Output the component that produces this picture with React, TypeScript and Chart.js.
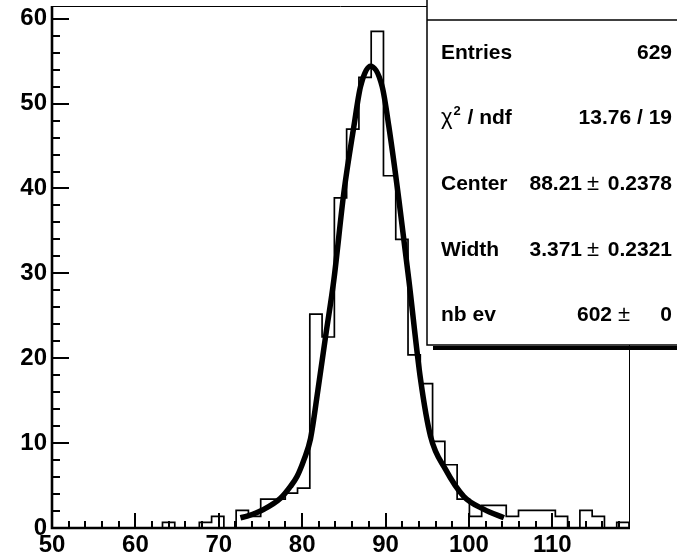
import React, { useEffect, useRef } from "react";
import { Chart, registerables } from "chart.js";

Chart.register(...registerables);

// ---- data ----
const X_MIN = 50;
const X_MAX = 119.2;
const Y_MAX = 61.5;

// 47 bins from X_MIN to X_MAX
const binCounts = [
  0, 0, 0, 0, 0, 0, 0, 0, 0, 0.66,
  0, 0, 0.66, 1.37, 0, 2.07, 1.37, 3.4, 3.4, 4.1,
  4.7, 25.2, 22.5, 38.9, 47.0, 53.1, 58.5, 41.5, 34.0, 20.4,
  17.0, 10.2, 7.45, 3.4, 1.37, 2.66, 2.66, 1.37, 2.07, 2.07,
  2.07, 1.37, 0, 2.07, 1.37, 0, 0.66,
];

const fitX = [72.6, 73.4, 75.4, 77.4, 78.6, 79.4, 80.2, 81.0, 81.9, 82.8, 83.8, 85.0, 86.2, 87.0, 88.2, 89.6, 90.4, 91.6, 92.8, 94.2, 95.4, 97.2, 99.4, 101.8, 104.2];
const fitY = [1.2, 1.4, 2.2, 3.5, 4.9, 6.1, 8.0, 10.5, 16.3, 22.5, 29.2, 39.5, 47.3, 52.0, 54.4, 52.0, 47.3, 38.7, 29.2, 17.5, 10.8, 6.9, 3.7, 2.2, 1.2];

const xMajorTicks = [50, 60, 70, 80, 90, 100, 110];
const yMajorTicks = [0, 10, 20, 30, 40, 50, 60];
const xMinorStep = 2;
const yMinorStep = 2;

const statsEntries = "629";
const statsChi2 = "13.76 / 19";
const statsCenter = ["88.21", "0.2378"];
const statsWidth = ["3.371", "0.2321"];
const statsNbEv = ["602", "0"];

const BOLD = 'bold 21px "Liberation Sans", Arial, Helvetica, sans-serif';
const NORMAL = '22px "Liberation Sans", Arial, Helvetica, sans-serif';

const rootDecor = {
  id: "rootDecor",
  afterDatasetsDraw(chart: any) {
    const { ctx, chartArea: a, scales } = chart;
    const x = scales.x;
    const y = scales.y;
    ctx.save();
    ctx.strokeStyle = "#000";
    ctx.fillStyle = "#000";

    // thin top & right frame
    ctx.lineWidth = 1;
    ctx.beginPath();
    ctx.moveTo(a.left, a.top + 0.5);
    ctx.lineTo(a.right, a.top + 0.5);
    ctx.moveTo(a.right + 0.5, a.top);
    ctx.lineTo(a.right + 0.5, a.bottom);
    ctx.stroke();

    // ticks (inside)
    ctx.lineWidth = 2;
    ctx.beginPath();
    for (let v = 0; v <= Y_MAX; v += yMinorStep) {
      const len = yMajorTicks.includes(v) ? 17 : 8;
      const py = Math.round(y.getPixelForValue(v));
      ctx.moveTo(a.left, py);
      ctx.lineTo(a.left + len, py);
    }
    for (let v = X_MIN; v <= X_MAX; v += xMinorStep) {
      const len = xMajorTicks.includes(v) ? 15 : 7;
      const px = Math.round(x.getPixelForValue(v));
      ctx.moveTo(px, a.bottom);
      ctx.lineTo(px, a.bottom - len);
    }
    ctx.stroke();

    // thick axes
    ctx.lineWidth = 2.6;
    ctx.beginPath();
    ctx.moveTo(a.left, a.top);
    ctx.lineTo(a.left, a.bottom);
    ctx.lineTo(a.right + 1, a.bottom);
    ctx.stroke();

    // stats box
    const bx = 427;
    const by = -5;
    const bw = 300;
    const bh = 350;
    ctx.fillStyle = "#000";
    ctx.fillRect(bx + 6, by + bh + 1, bw, 4);
    ctx.fillStyle = "#fff";
    ctx.fillRect(bx, by, bw, bh);
    ctx.lineWidth = 1.5;
    ctx.strokeStyle = "#000";
    ctx.strokeRect(bx, by, bw, bh);
    ctx.beginPath();
    ctx.moveTo(bx, 20);
    ctx.lineTo(bx + bw, 20);
    ctx.stroke();

    ctx.fillStyle = "#000";
    ctx.textBaseline = "alphabetic";
    const L = 441;
    const R = 672;
    const rows = [58.5, 124, 190, 255.5, 321];

    const put = (t: string, px: number, py: number, align: CanvasTextAlign, font: string) => {
      ctx.font = font;
      ctx.textAlign = align;
      ctx.fillText(t, px, py);
    };

    put("Entries", L, rows[0], "left", BOLD);
    put(statsEntries, R, rows[0], "right", BOLD);

    put("\u03c7", L, rows[1], "left", NORMAL);
    ctx.font = NORMAL;
    const chiW = ctx.measureText("\u03c7").width;
    put("2", L + chiW + 1, rows[1] - 9, "left", 'bold 13px "Liberation Sans", Arial, sans-serif');
    put("/ ndf", L + chiW + 15, rows[1], "left", BOLD);
    put(statsChi2, R, rows[1], "right", BOLD);

    const pm = (vals: string[], py: number, vRight: number, pmLeft: number) => {
      put(vals[0], vRight, py, "right", BOLD);
      put("\u00b1", pmLeft, py, "left", NORMAL);
      put(vals[1], R, py, "right", BOLD);
    };
    put("Center", L, rows[2], "left", BOLD);
    pm(statsCenter, rows[2], 582, 587);
    put("Width", L, rows[3], "left", BOLD);
    pm(statsWidth, rows[3], 582, 587);
    put("nb ev", L, rows[4], "left", BOLD);
    pm(statsNbEv, rows[4], 612, 618);

    ctx.restore();
  },
};

export default function App() {
  const ref = useRef<HTMLCanvasElement | null>(null);

  useEffect(() => {
    document.body.style.margin = "0";
    const canvas = ref.current;
    if (!canvas) return;
    const binWidth = (X_MAX - X_MIN) / binCounts.length;
    const histPoints = binCounts.map((c, i) => ({ x: X_MIN + i * binWidth, y: c }));
    histPoints.push({ x: X_MAX, y: 0 });
    const fitPoints = fitX.map((xv, i) => ({ x: xv, y: fitY[i] }));

    const tickFont = { family: '"Liberation Sans", Arial, Helvetica, sans-serif', size: 24, weight: "bold" as const };

    const chart = new Chart(canvas, {
      type: "line",
      data: {
        datasets: [
          {
            label: "fit",
            data: fitPoints,
            borderColor: "#000",
            borderWidth: 5.5,
            pointRadius: 0,
            fill: false,
            cubicInterpolationMode: "monotone",
          },
          {
            label: "hist",
            data: histPoints,
            borderColor: "#000",
            borderWidth: 1.7,
            pointRadius: 0,
            fill: false,
            stepped: true,
          },
        ],
      },
      options: {
        animation: false,
        responsive: false,
        events: [],
        layout: { padding: { top: 6, right: 48, left: 0, bottom: 0 } },
        plugins: { legend: { display: false }, tooltip: { enabled: false } },
        scales: {
          x: {
            type: "linear",
            min: X_MIN,
            max: X_MAX,
            border: { display: false },
            grid: { display: false, drawTicks: false },
            ticks: {
              stepSize: 10,
              includeBounds: false,
              autoSkip: false,
              maxRotation: 0,
              padding: 3,
              color: "#000",
              font: tickFont,
            },
            afterFit: (s: any) => {
              s.height = 32;
              s.paddingLeft = 0;
              s.paddingRight = 0;
            },
          },
          y: {
            type: "linear",
            min: 0,
            max: Y_MAX,
            border: { display: false },
            grid: { display: false, drawTicks: false },
            ticks: {
              stepSize: 10,
              includeBounds: false,
              autoSkip: false,
              padding: 5,
              color: "#000",
              font: tickFont,
            },
            afterFit: (s: any) => {
              s.width = 52;
              s.paddingTop = 0;
              s.paddingBottom = 0;
            },
          },
        },
      },
      plugins: [rootDecor],
    });
    return () => chart.destroy();
  }, []);

  return (
    <div style={{ width: 677, height: 560, background: "#fff" }}>
      <canvas ref={ref} width={677} height={560} style={{ display: "block" }} />
    </div>
  );
}
